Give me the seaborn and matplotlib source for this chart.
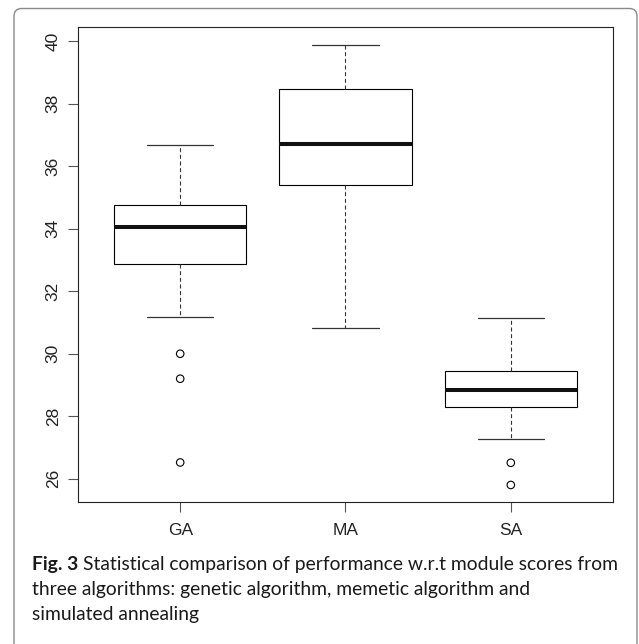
import matplotlib
matplotlib.use("Agg")
import matplotlib.pyplot as plt
from matplotlib.patches import FancyBboxPatch
import pandas as pd
import seaborn as sns

# values
groups = ["GA", "MA", "SA"]
whisker_low = [31.17, 30.82, 27.27]
q1 = [32.87, 35.41, 28.28]
median = [34.05, 36.70, 28.85]
q3 = [34.75, 38.46, 29.46]
whisker_high = [36.68, 39.89, 31.15]

outlier_group = ["GA", "GA", "GA", "SA", "SA"]
outlier_value = [30.00, 29.20, 26.52, 26.51, 25.80]

y_ticks = [26, 28, 30, 32, 34, 36, 38, 40]

caption_bold = "Fig. 3"
caption_lines = [
    "Statistical comparison of performance w.r.t module scores from",
    "three algorithms: genetic algorithm, memetic algorithm and",
    "simulated annealing",
]

sns.set_theme(style="ticks")
plt.rcParams["font.family"] = ["Liberation Sans", "DejaVu Sans"]

# five summary values per group: with n=5 the quartiles land exactly on them
rows = []
for i, g in enumerate(groups):
    for v in (whisker_low[i], q1[i], median[i], q3[i], whisker_high[i]):
        rows.append({"algorithm": g, "score": v})
df = pd.DataFrame(rows)
outliers = pd.DataFrame({"algorithm": outlier_group, "score": outlier_value})

W, H = 639, 644
fig = plt.figure(figsize=(W / 100, H / 100), dpi=100)
ax = fig.add_axes([77.7 / W, 1 - 502.3 / H, (613.3 - 77.7) / W, (502.3 - 27.3) / H])

sns.boxplot(data=df, x="algorithm", y="score", order=groups, whis=(0, 100),
            width=0.8, showfliers=False, color="white", linecolor="black",
            linewidth=0.8,
            medianprops=dict(linewidth=2.9, color="#111111", solid_capstyle="butt"),
            whiskerprops=dict(linestyle=(0, (3.6, 2.4)), color="#333333", linewidth=0.8),
            capprops=dict(color="#333333", linewidth=0.9),
            ax=ax)

n_before = len(ax.collections)
sns.stripplot(data=outliers, x="algorithm", y="score", order=groups, jitter=False,
              color="black", marker="o", size=5.4, linewidth=0.8, ax=ax, zorder=4)
for c in ax.collections[n_before:]:
    c.set_facecolor("none")
    c.set_edgecolor("black")

ax.set_xlim(-0.62, 2.62)
ax.set_ylim(25.245, 40.448)
ax.set_yticks(y_ticks)
ax.set_xlabel("")
ax.set_ylabel("")
ax.tick_params(axis="both", length=7.2, width=0.8, color="#555555",
               labelsize=12.5, labelcolor="#222222")
ax.tick_params(axis="y", pad=5, labelrotation=90)
ax.tick_params(axis="x", pad=8)
for lab in ax.get_yticklabels():
    lab.set_va("center")
for sp in ax.spines.values():
    sp.set_visible(True)
    sp.set_color("#222222")
    sp.set_linewidth(0.8)

# rounded frame around the figure, open at the bottom
frame = FancyBboxPatch((14 / W, -0.05), (637 - 14) / W, (1 - 8.5 / H) + 0.05,
                       boxstyle="round,pad=0,rounding_size=0.012",
                       transform=fig.transFigure, fc="none", ec="#8a8a8a",
                       lw=1.0, clip_on=False)
fig.add_artist(frame)

# caption, sized so the first line spans the reference width
cap_font = ["Lato", "DejaVu Sans"]
fig.canvas.draw()
r = fig.canvas.get_renderer()
base = 10
tb = fig.text(0, 0, caption_bold + " ", fontsize=base, weight="bold", family=cap_font)
tr = fig.text(0, 0, caption_lines[0], fontsize=base, family=cap_font)
wb = tb.get_window_extent(r).width
wr = tr.get_window_extent(r).width
scale = (619 - 32) / (wb + wr)
size = base * scale
x0 = 32 / W
baselines = [570, 595, 620]
tb.set_fontsize(size)
tb.set_position((x0, 1 - baselines[0] / H))
tb.set_va("baseline")
tb.set_color("#1a1a1a")
tr.set_fontsize(size)
tr.set_position((x0 + wb * scale / W, 1 - baselines[0] / H))
tr.set_va("baseline")
tr.set_color("#1a1a1a")
for line, yb in zip(caption_lines[1:], baselines[1:]):
    fig.text(x0, 1 - yb / H, line, fontsize=size, family=cap_font,
             va="baseline", color="#1a1a1a")

fig.savefig("out.png", dpi=100)
